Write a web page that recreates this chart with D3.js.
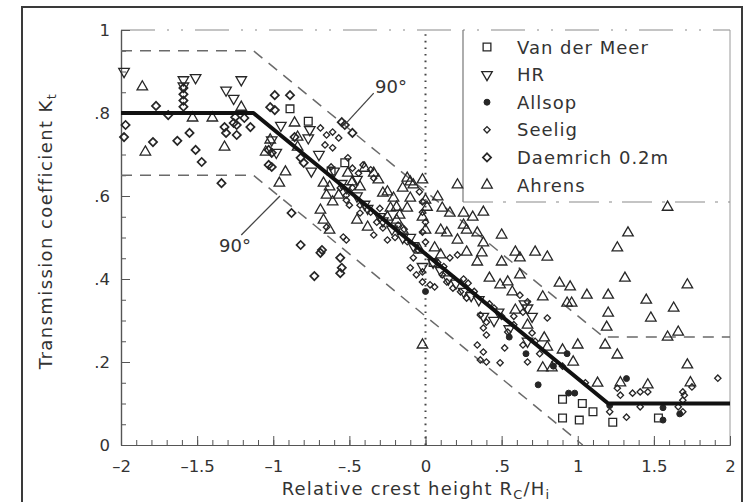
<!DOCTYPE html>
<html>
<head>
<meta charset="utf-8">
<script src="https://cdn.jsdelivr.net/npm/d3@7"></script>
<style>
  body { margin: 0; background: #fff; }
  svg { display: block; }
  text { font-family: "DejaVu Sans", sans-serif; fill: #333; }
</style>
</head>
<body>
<svg id="chart" width="750" height="502"></svg>
<script>
// Axis ticks and labels
const xTicks = [-2, -1.5, -1, -0.5, 0, 0.5, 1, 1.5, 2];
const xTickLabels = ["–2", "–1.5", "–1", "–.5", "0", ".5", "1", "1.5", "2"];
const yTicks = [0, 0.2, 0.4, 0.6, 0.8, 1];
const yTickLabels = ["0", ".2", ".4", ".6", ".8", "1"];

// Design formula and its scatter band (Rc/Hi, Kt)
const designLine = [[-2, 0.8], [-1.13, 0.8], [1.2, 0.1], [2, 0.1]];
const upperBand = [[-2, 0.95], [-1.13, 0.95], [1.17, 0.26], [2, 0.26]];
const lowerBand = [[-2, 0.65], [-1.13, 0.65], [1.033, 0]];

// Measurements per data set (Rc/Hi, Kt)
const vanDerMeer = [[-0.89,0.81],[-0.77,0.78],[-0.53,0.68],[-0.62,0.66],[0.05,0.44],[0.90,0.11],[1.03,0.10],[1.10,0.08],[0.90,0.065],[1.01,0.06],[1.23,0.055],[1.53,0.065]];

const hr = [[-1.98,0.90],[-1.59,0.88],[-1.59,0.865],[-1.51,0.885],[-1.21,0.88],[-1.31,0.855],[-1.26,0.835],[-0.95,0.77],[-0.76,0.76],[-0.77,0.74],[-1.01,0.735],[-0.98,0.705],[-0.75,0.66],[-0.60,0.66],[-0.52,0.62],[-0.45,0.60],[-0.38,0.57],[-0.30,0.55],[-0.22,0.52],[-0.15,0.50],[-0.08,0.48],[-0.02,0.43],[0.10,0.42],[0.20,0.39],[0.30,0.36],[0.45,0.30],[0.38,0.31],[0.65,0.34],[0.67,0.33],[0.70,0.31],[0.67,0.25],[0.55,0.28],[-0.70,0.70],[-0.45,0.64],[-0.55,0.63],[-0.40,0.58],[-0.28,0.54],[-0.10,0.50],[0.05,0.44],[0.15,0.40],[0.25,0.37],[0.35,0.35],[0.48,0.32]];

const allsop = [[0.93,0.22],[0.84,0.19],[1.32,0.16],[0.74,0.145],[0.94,0.125],[0.98,0.125],[1.21,0.095],[1.56,0.09],[1.56,0.06],[1.67,0.075],[0.00,0.37],[0.55,0.26],[0.66,0.22]];

const seelig = [[-0.69,0.764],[-0.65,0.747],[-0.61,0.754],[-0.57,0.740],[-0.66,0.723],[-0.61,0.716],[-0.51,0.692],[-0.48,0.667],[-0.44,0.655],[-0.41,0.675],[-0.36,0.663],[-0.34,0.643],[-0.56,0.619],[-0.52,0.602],[-0.50,0.578],[-0.43,0.578],[-0.36,0.561],[-0.32,0.537],[-0.28,0.523],[-0.34,0.506],[-0.25,0.494],[-0.52,0.590],[-0.43,0.559],[-0.65,0.525],[-0.54,0.501],[-0.52,0.494],[-0.04,0.610],[-0.02,0.586],[-0.02,0.561],[0.00,0.537],[-0.02,0.513],[0.00,0.489],[-0.10,0.427],[-0.06,0.410],[-0.02,0.417],[-0.02,0.393],[-0.08,0.451],[0.03,0.386],[0.06,0.381],[0.16,0.451],[0.21,0.458],[0.11,0.410],[0.14,0.393],[0.18,0.378],[0.23,0.369],[0.27,0.354],[0.36,0.313],[0.40,0.296],[0.38,0.282],[0.40,0.265],[0.34,0.241],[0.38,0.224],[0.36,0.205],[0.40,0.200],[0.52,0.234],[0.49,0.198],[0.54,0.272],[0.62,0.361],[0.67,0.345],[0.64,0.320],[0.64,0.241],[0.67,0.200],[0.80,0.306],[-0.20,0.50],[-0.12,0.49],[-0.18,0.53],[0.08,0.44],[0.25,0.40],[0.32,0.37],[0.45,0.33],[0.50,0.31],[0.58,0.29],[0.70,0.27],[0.75,0.22],[0.85,0.20],[-0.62,0.67],[-0.48,0.62],[-0.30,0.57],[-0.14,0.52],[-0.05,0.47],[0.12,0.43],[0.28,0.39],[0.42,0.34],[0.58,0.31],[0.72,0.25],[0.90,0.19],[1.05,0.15],[1.26,0.137],[1.28,0.120],[1.36,0.125],[1.41,0.128],[1.46,0.128],[1.69,0.128],[1.70,0.120],[1.75,0.140],[1.32,0.067],[1.21,0.080],[1.41,0.092],[1.66,0.092],[1.69,0.080],[1.69,0.108],[1.92,0.161]];

const daemrich = [[-1.59,0.86],[-1.59,0.845],[-1.59,0.83],[-1.59,0.815],[-1.77,0.817],[-1.69,0.795],[-1.25,0.79],[-1.26,0.776],[-1.32,0.766],[-1.31,0.752],[-1.24,0.771],[-1.24,0.747],[-1.19,0.788],[-1.15,0.766],[-1.97,0.771],[-1.98,0.742],[-1.79,0.73],[-1.63,0.733],[-1.55,0.752],[-1.51,0.711],[-1.47,0.682],[-1.34,0.631],[-0.99,0.843],[-0.89,0.843],[-1.02,0.814],[-0.99,0.807],[-0.86,0.742],[-1.03,0.711],[-1.01,0.704],[-0.82,0.692],[-0.80,0.68],[-1.03,0.675],[-1.01,0.67],[-0.88,0.559],[-0.82,0.482],[-0.69,0.463],[-0.68,0.47],[-0.73,0.407],[-0.56,0.451],[-0.55,0.427],[-0.56,0.414],[-0.55,0.778],[-0.53,0.771],[-0.48,0.752]];

const ahrens = [[-1.86,0.863],[-1.53,0.788],[-1.40,0.788],[-1.21,0.814],[-1.32,0.718],[-1.84,0.706],[-0.86,0.776],[-0.84,0.742],[-0.84,0.718],[-0.92,0.658],[-0.96,0.631],[-1.02,0.735],[-1.05,0.706],[-0.67,0.631],[-0.65,0.602],[-0.61,0.586],[-0.63,0.622],[-0.57,0.602],[-0.51,0.655],[-0.48,0.634],[-0.43,0.622],[-0.40,0.667],[-0.34,0.655],[-0.31,0.639],[-0.25,0.610],[-0.21,0.595],[-0.23,0.571],[-0.28,0.607],[-0.19,0.573],[-0.15,0.619],[-0.10,0.595],[-0.12,0.571],[-0.17,0.554],[-0.12,0.643],[-0.10,0.634],[-0.02,0.639],[-0.08,0.627],[0.00,0.590],[0.01,0.573],[-0.02,0.549],[0.00,0.518],[-0.69,0.566],[-0.67,0.542],[-0.63,0.518],[-0.45,0.542],[-0.38,0.525],[-0.25,0.549],[-0.19,0.542],[-0.15,0.518],[0.08,0.598],[0.11,0.571],[0.16,0.559],[0.21,0.627],[0.25,0.559],[0.31,0.549],[0.38,0.561],[0.10,0.518],[0.14,0.511],[0.21,0.494],[0.27,0.518],[0.34,0.511],[0.38,0.487],[0.50,0.506],[0.25,0.530],[0.06,0.475],[0.10,0.458],[0.27,0.465],[0.34,0.441],[0.37,0.463],[-0.04,0.470],[0.42,0.402],[0.49,0.386],[0.54,0.393],[0.57,0.369],[0.50,0.441],[0.59,0.465],[0.59,0.325],[0.62,0.451],[0.62,0.410],[0.67,0.289],[0.78,0.258],[0.80,0.236],[0.90,0.229],[0.97,0.200],[1.00,0.241],[1.59,0.573],[1.33,0.511],[1.26,0.475],[0.72,0.465],[0.80,0.453],[1.31,0.402],[1.72,0.386],[0.88,0.390],[0.95,0.381],[1.06,0.361],[1.20,0.361],[1.45,0.349],[1.63,0.330],[1.20,0.318],[1.19,0.284],[1.48,0.306],[1.66,0.272],[1.59,0.260],[1.18,0.241],[1.26,0.217],[1.72,0.193],[0.77,0.186],[0.83,0.186],[0.77,0.357],[0.93,0.342],[0.96,0.342],[1.13,0.149],[-0.02,0.241],[1.28,0.150],[1.46,0.145],[1.74,0.150]];

const seriesNames = ["Van der Meer", "HR", "Allsop", "Seelig", "Daemrich 0.2m", "Ahrens"];

// ---------------------------------------------------------------
const svg = d3.select("#chart");
const ink = "#262626";
const x = d3.scaleLinear().domain([-2, 2]).range([121, 730]);
const y = d3.scaleLinear().domain([0, 1]).range([445, 30]);

// page frame
svg.append("rect").attr("x", 22).attr("y", 7).attr("width", 720).attr("height", 520)
  .attr("fill", "none").attr("stroke", "#3a3a3a").attr("stroke-width", 2);

// plot edges at Kt = 1 and Rc/Hi = 2
svg.append("line").attr("x1", x(-2)).attr("x2", x(2)).attr("y1", y(1)).attr("y2", y(1))
  .attr("stroke", "#8a8a8a").attr("stroke-width", 1.2).attr("stroke-dasharray", "34,12,2,12,2,12");
svg.append("line").attr("x1", x(2)).attr("x2", x(2)).attr("y1", y(0)).attr("y2", y(1))
  .attr("stroke", "#9a9a9a").attr("stroke-width", 1);

// axes: major and minor ticks pointing inward
const styleAxis = g => {
  g.select(".domain").attr("stroke", "#555").attr("stroke-width", 1.2);
  g.selectAll(".tick line").attr("stroke", "#555").attr("stroke-width", 1);
  g.selectAll("text").attr("font-size", 16.5).attr("fill", "#333")
    .attr("font-family", "DejaVu Sans, sans-serif");
};
svg.append("g").attr("transform", `translate(${x(-2)},0)`)
  .call(d3.axisLeft(y).tickValues(d3.range(0, 1.001, 0.05)).tickFormat("").tickSizeInner(-5).tickSizeOuter(0))
  .call(styleAxis);
svg.append("g").attr("transform", `translate(${x(-2)},0)`)
  .call(d3.axisLeft(y).tickValues(yTicks).tickFormat((d, i) => yTickLabels[i]).tickSizeInner(-9).tickSizeOuter(0).tickPadding(11))
  .call(styleAxis);
svg.append("g").attr("transform", `translate(0,${y(0)})`)
  .call(d3.axisBottom(x).tickValues(d3.range(-2, 2.001, 0.1)).tickFormat("").tickSizeInner(-5).tickSizeOuter(0))
  .call(styleAxis);
svg.append("g").attr("transform", `translate(0,${y(0)})`)
  .call(d3.axisBottom(x).tickValues(xTicks).tickFormat((d, i) => xTickLabels[i]).tickSizeInner(-9).tickSizeOuter(0).tickPadding(15))
  .call(styleAxis);

// vertical dotted line at Rc/Hi = 0
svg.append("line").attr("x1", x(0)).attr("x2", x(0)).attr("y1", y(0)).attr("y2", y(1))
  .attr("stroke", "#444").attr("stroke-width", 2).attr("stroke-dasharray", "1.6,5");

// legend box
const lg = { x0: 463, y0: y(1), x1: x(2), y1: 202 };
svg.append("line").attr("x1", lg.x0).attr("x2", lg.x0).attr("y1", lg.y0).attr("y2", lg.y1)
  .attr("stroke", "#777").attr("stroke-width", 1.2);
svg.append("line").attr("x1", lg.x0).attr("x2", lg.x1).attr("y1", lg.y1).attr("y2", lg.y1)
  .attr("stroke", "#8a8a8a").attr("stroke-width", 1.2).attr("stroke-dasharray", "30,10,3,10");

const line = d3.line().x(d => x(d[0])).y(d => y(d[1]));

// scatter band
[upperBand, lowerBand].forEach(b => {
  svg.append("path").attr("d", line(b)).attr("fill", "none")
    .attr("stroke", "#6a6a6a").attr("stroke-width", 1.5).attr("stroke-dasharray", "11,8");
});

// symbols per data set
const seriesStyle = [
  { data: vanDerMeer, type: d3.symbolSquare, size: 60, rot: 0, fill: "none", sw: 1.3 },
  { data: hr, type: d3.symbolTriangle, size: 48, rot: 180, fill: "none", sw: 1.3 },
  { data: allsop, type: d3.symbolCircle, size: 28, rot: 0, fill: ink, sw: 1 },
  { data: seelig, type: d3.symbolSquare, size: 20, rot: 45, fill: "none", sw: 1.3 },
  { data: daemrich, type: d3.symbolSquare, size: 34, rot: 45, fill: "none", sw: 1.7 },
  { data: ahrens, type: d3.symbolTriangle, size: 48, rot: 0, fill: "none", sw: 1.3 }
];

seriesStyle.forEach(s => {
  const path = d3.symbol(s.type, s.size)();
  svg.append("g").selectAll("path").data(s.data).join("path")
    .attr("d", path)
    .attr("transform", d => `translate(${x(d[0])},${y(d[1])}) rotate(${s.rot})`)
    .attr("fill", s.fill).attr("stroke", ink).attr("stroke-width", s.sw);
});

// design formula
svg.append("path").attr("d", line(designLine)).attr("fill", "none")
  .attr("stroke", "#111").attr("stroke-width", 4).attr("stroke-linejoin", "round");

// right-angle annotations
svg.append("line").attr("x1", x(-0.34)).attr("y1", y(0.848)).attr("x2", x(-0.53)).attr("y2", y(0.772))
  .attr("stroke", "#444").attr("stroke-width", 1.3);
svg.append("text").attr("x", 375).attr("y", 93).attr("font-size", 18).text("90°");
svg.append("line").attr("x1", x(-1.21)).attr("y1", y(0.506)).attr("x2", x(-0.956)).attr("y2", y(0.600))
  .attr("stroke", "#444").attr("stroke-width", 1.3);
svg.append("text").attr("x", 219).attr("y", 252).attr("font-size", 18).text("90°");

// legend rows
const rowY = d3.scalePoint().domain(seriesNames).range([47, 185]);
seriesNames.forEach((name, i) => {
  const s = seriesStyle[i];
  svg.append("path").attr("d", d3.symbol(s.type, s.size)())
    .attr("transform", `translate(487,${rowY(name)}) rotate(${s.rot})`)
    .attr("fill", s.fill).attr("stroke", ink).attr("stroke-width", s.sw);
  svg.append("text").attr("x", 517).attr("y", rowY(name) + 6.5)
    .attr("font-size", 18).attr("letter-spacing", 1).text(name);
});

// axis titles
const yt = svg.append("text").attr("transform", "translate(52,231) rotate(-90)")
  .attr("text-anchor", "middle").attr("font-size", 18).attr("letter-spacing", 1.4);
yt.append("tspan").text("Transmission coefficient K");
yt.append("tspan").attr("font-size", 13).attr("dy", 4).text("t");

const xt = svg.append("text").attr("x", 416).attr("y", 495)
  .attr("text-anchor", "middle").attr("font-size", 18).attr("letter-spacing", 1.2);
xt.append("tspan").text("Relative crest height R");
xt.append("tspan").attr("font-size", 13).attr("dy", 4).text("C");
xt.append("tspan").attr("dy", -4).text("/H");
xt.append("tspan").attr("font-size", 13).attr("dy", 4).text("i");
</script>
</body>
</html>
